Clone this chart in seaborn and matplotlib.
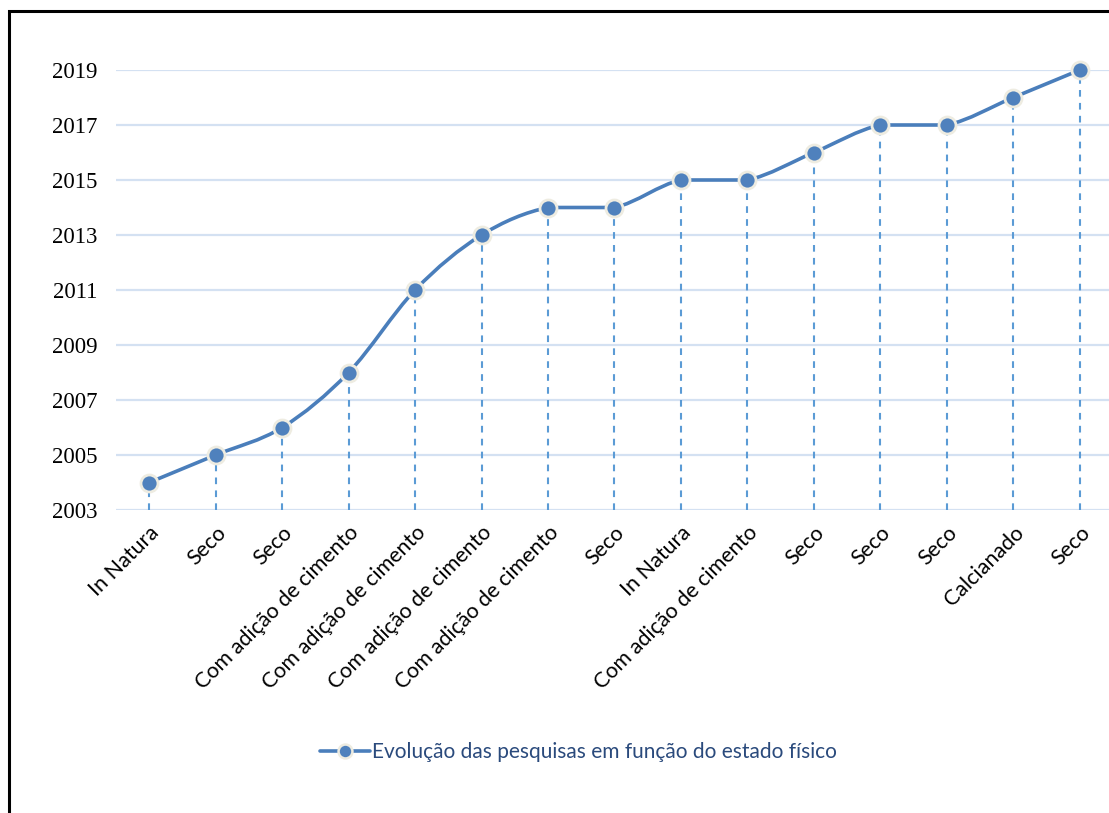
import numpy as np
import pandas as pd
import matplotlib
matplotlib.use("Agg")
import matplotlib.pyplot as plt
from matplotlib.path import Path
from matplotlib.patches import PathPatch, Rectangle
from matplotlib.lines import Line2D
import seaborn as sns

# Data
estados = ["In Natura", "Seco", "Seco", "Com adição de cimento", "Com adição de cimento",
           "Com adição de cimento", "Com adição de cimento", "Seco", "In Natura",
           "Com adição de cimento", "Seco", "Seco", "Seco", "Calcianado", "Seco"]
anos = [2004, 2005, 2006, 2008, 2011, 2013, 2014, 2014, 2015, 2015, 2016, 2017, 2017, 2018, 2019]
yticks = [2003, 2005, 2007, 2009, 2011, 2013, 2015, 2017, 2019]
serie = "Evolução das pesquisas em função do estado físico"

df = pd.DataFrame({"pos": np.arange(len(estados)), "ano": anos, "estado": estados})

LINE = "#4a7ebb"
MARK = "#4f81bd"
EDGE = "#eeece1"
DROP = "#5b9bd5"
GRID = "#d4e1f2"

sns.set_theme(style="white")
plt.rcParams["font.family"] = ["Lato", "DejaVu Sans"]

W, H = 1109, 813
fig = plt.figure(figsize=(W / 100, H / 100), dpi=100)
ax = fig.add_axes([116 / W, (H - 510) / H, (W - 116) / W, 440 / H])

ax.set_xlim(-0.5, 14.44)
ax.set_ylim(2003, 2019)

# horizontal gridlines
for y in yticks:
    ax.axhline(y, color=GRID, lw=1.6, zorder=0)

# dashed drop lines from each point to the base
ax.vlines(df["pos"], 2003, df["ano"], colors=DROP, linestyles=(0, (3.2, 3.0)), lw=1.5, zorder=1)

# smoothed connecting curve: cubic Bezier segments with Catmull-Rom tangents,
# flat segments kept straight
x = df["pos"].to_numpy(float)
y = df["ano"].to_numpy(float)
n = len(x)
verts = [(x[0], y[0])]
codes = [Path.MOVETO]
for i in range(n - 1):
    p0 = (x[max(i - 1, 0)], y[max(i - 1, 0)])
    p1 = (x[i], y[i])
    p2 = (x[i + 1], y[i + 1])
    p3 = (x[min(i + 2, n - 1)], y[min(i + 2, n - 1)])
    if p1[1] == p2[1]:
        c1 = (p1[0] + (p2[0] - p1[0]) / 3, p1[1])
        c2 = (p2[0] - (p2[0] - p1[0]) / 3, p2[1])
    else:
        c1 = (p1[0] + (p2[0] - p0[0]) / 6, p1[1] + (p2[1] - p0[1]) / 6)
        c2 = (p2[0] - (p3[0] - p1[0]) / 6, p2[1] - (p3[1] - p1[1]) / 6)
    verts += [c1, c2, p2]
    codes += [Path.CURVE4] * 3
ax.add_patch(PathPatch(Path(verts, codes), facecolor="none", edgecolor=LINE, lw=2.6,
                       zorder=2, clip_on=False))

# markers
sns.scatterplot(data=df, x="pos", y="ano", ax=ax, color=MARK, s=150, edgecolor=EDGE,
                linewidth=2.0, zorder=3, clip_on=False, legend=False)

ax.set_xticks(df["pos"])
ax.set_xticklabels(df["estado"], rotation=45, ha="right", rotation_mode="anchor",
                   fontsize=15.5, color="black")
ax.set_yticks(yticks)
ax.set_yticklabels([str(v) for v in yticks], family="Liberation Serif", fontsize=16.5,
                   color="black")
ax.tick_params(axis="x", length=0, pad=9)
ax.tick_params(axis="y", length=0, pad=13.5)
ax.set_xlabel("")
ax.set_ylabel("")
for s in ax.spines.values():
    s.set_visible(False)

# legend
handle = Line2D([0], [0], color=LINE, lw=2.6, marker="o", markersize=10,
                markerfacecolor=MARK, markeredgecolor=EDGE, markeredgewidth=1.8)
fig.legend([handle], [serie], loc="center", bbox_to_anchor=(578 / W, (H - 752) / H),
           frameon=False, fontsize=15, handlelength=2.4, handletextpad=0.1,
           labelcolor="#2a4a7c")

# outer frame
fig.add_artist(Rectangle((9 / W, -0.05), 1.2, (H - 11) / H + 0.05, transform=fig.transFigure,
                         fill=False, edgecolor="black", lw=2.2))

fig.savefig("out.png", dpi=100)
